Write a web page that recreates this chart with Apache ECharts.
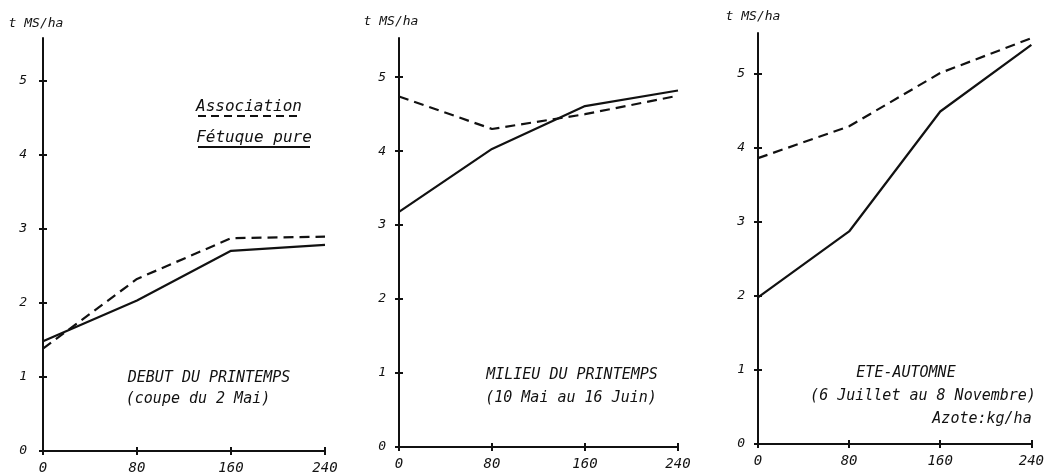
<!DOCTYPE html>
<html>
<head>
<meta charset="utf-8">
<script src="https://cdn.jsdelivr.net/npm/echarts@6/dist/echarts.min.js"></script>
<style>
html,body{margin:0;padding:0;background:#fff;}
#chart{width:1047px;height:476px;}
</style>
</head>
<body>
<div id="chart"></div>
<script>
// Nitrogen doses (kg/ha) and yields (t MS/ha)
const nitrogen = [0, 80, 160, 240];
const xTicks = [0, 80, 160, 240];
const yTicks = [0, 1, 2, 3, 4, 5];

const assocEarly = [1.38, 2.32, 2.87, 2.89];
const fescueEarly = [1.48, 2.03, 2.70, 2.78];

const assocMid = [4.74, 4.30, 4.50, 4.75];
const fescueMid = [3.18, 4.03, 4.61, 4.82];

const assocSummer = [3.86, 4.29, 5.01, 5.48];
const fescueSummer = [1.98, 2.87, 4.49, 5.39];

const seriesNames = ['Association', 'Fétuque pure'];
const yTitle = 't MS/ha';
const panelTitles = [
  ['DEBUT DU PRINTEMPS', '(coupe du 2 Mai)'],
  ['MILIEU DU PRINTEMPS', '(10 Mai au 16 Juin)'],
  ['ETE-AUTOMNE', '(6 Juillet au 8 Novembre)', 'Azote:kg/ha']
];

const FONT = '"DejaVu Sans Mono", monospace';
const ink = '#111';

const grids = [
  {left: 43, right: 722, top: 38, bottom: 25, ymax: 5.57},
  {left: 399, right: 369, top: 38, bottom: 29, ymax: 5.53},
  {left: 758, right: 6, top: 33, bottom: 32, ymax: 5.55}
];
const panels = [
  [assocEarly, fescueEarly],
  [assocMid, fescueMid],
  [assocSummer, fescueSummer]
];

const xAxes = [], yAxes = [], series = [];
grids.forEach((g, i) => {
  const common = {gridIndex: i, type: 'value', min: 0, max: 240, interval: 80, splitLine: {show: false}};
  xAxes.push(Object.assign({}, common, {
    position: 'bottom',
    axisLine: {show: true, lineStyle: {color: ink, width: 2}},
    axisTick: {show: true, length: 4, lineStyle: {color: ink, width: 2}, customValues: xTicks},
    axisLabel: {show: true, customValues: xTicks, margin: 10, color: ink, fontFamily: FONT, fontStyle: 'italic', fontSize: 14}
  }));
  xAxes.push(Object.assign({}, common, {
    position: 'bottom', offset: 0,
    axisLine: {show: false},
    axisTick: {show: true, inside: true, length: 4, lineStyle: {color: ink, width: 2}, customValues: xTicks},
    axisLabel: {show: false}
  }));
  const ycommon = {gridIndex: i, type: 'value', min: 0, max: g.ymax, interval: 1, splitLine: {show: false}};
  yAxes.push(Object.assign({}, ycommon, {
    position: 'left',
    axisLine: {show: true, lineStyle: {color: ink, width: 2}},
    axisTick: {show: true, length: 4, lineStyle: {color: ink, width: 2}, customValues: yTicks},
    axisLabel: {show: true, customValues: yTicks, margin: i === 0 ? 16 : 13, color: ink, fontFamily: FONT, fontStyle: 'italic', fontSize: 13}
  }));
  yAxes.push(Object.assign({}, ycommon, {
    position: 'left', offset: 0,
    axisLine: {show: false},
    axisTick: {show: true, inside: true, length: 4, lineStyle: {color: ink, width: 2}, customValues: yTicks},
    axisLabel: {show: false}
  }));
  panels[i].forEach((vals, k) => {
    series.push({
      name: seriesNames[k],
      type: 'line',
      xAxisIndex: 2 * i,
      yAxisIndex: 2 * i,
      data: nitrogen.map((n, j) => [n, vals[j]]),
      showSymbol: false,
      symbol: 'none',
      silent: true,
      lineStyle: {color: ink, width: 2.2, type: k === 0 ? [10, 6] : 'solid'}
    });
  });
});

function txt(x, y, text, size, align) {
  return {
    type: 'text', x: x, y: y, silent: true,
    style: {text: text, fill: ink, font: 'italic ' + size + 'px ' + FONT,
            textAlign: align || 'center', textVerticalAlign: 'middle',
            align: align || 'center', verticalAlign: 'middle'}
  };
}

const graphics = [
  txt(36, 24, yTitle, 13),
  txt(391, 22, yTitle, 13),
  txt(753, 17, yTitle, 13),
  // legend
  txt(249, 107, seriesNames[0], 16),
  {type: 'line', silent: true, shape: {x1: 198, y1: 116, x2: 297, y2: 116}, style: {stroke: ink, lineWidth: 2, lineDash: [8, 5]}},
  txt(254, 138, seriesNames[1], 16),
  {type: 'line', silent: true, shape: {x1: 198, y1: 147, x2: 310, y2: 147}, style: {stroke: ink, lineWidth: 2}},
  // panel annotations
  txt(209, 378, panelTitles[0][0], 15),
  txt(198, 399, panelTitles[0][1], 15),
  txt(572, 375, panelTitles[1][0], 15),
  txt(571, 398, panelTitles[1][1], 15),
  txt(906, 373, panelTitles[2][0], 15),
  txt(923, 396, panelTitles[2][1], 15),
  txt(982, 419, panelTitles[2][2], 15)
];

const chart = echarts.init(document.getElementById('chart'), null, {renderer: 'canvas'});
chart.setOption({
  animation: false,
  backgroundColor: '#fff',
  grid: grids.map(g => ({left: g.left, right: g.right, top: g.top, bottom: g.bottom, containLabel: false})),
  xAxis: xAxes,
  yAxis: yAxes,
  series: series,
  graphic: graphics
});
</script>
</body>
</html>
